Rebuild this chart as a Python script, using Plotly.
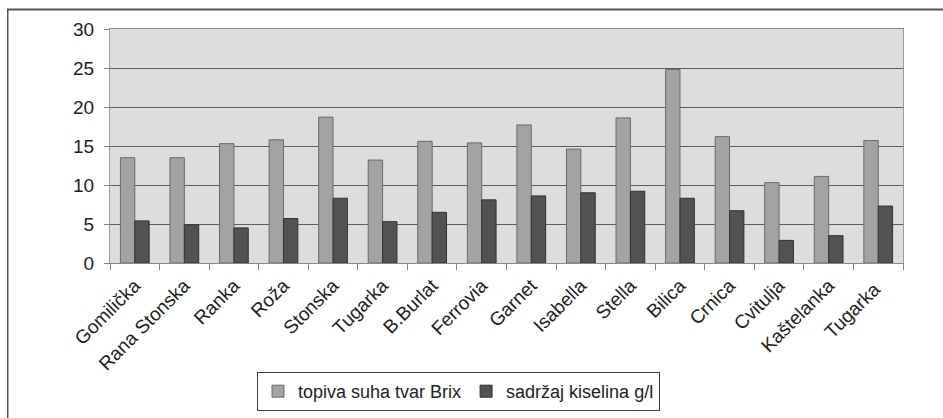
import plotly.graph_objects as go

categories = ["Gomilička", "Rana Stonska", "Ranka", "Roža", "Stonska", "Tugarka",
              "B.Burlat", "Ferrovia", "Garnet", "Isabella", "Stella", "Bilica",
              "Crnica", "Cvitulja", "Kaštelanka", "Tugarka "]
brix = [13.5, 13.5, 15.3, 15.8, 18.7, 13.2, 15.6, 15.4, 17.7, 14.6, 18.6, 24.8,
        16.2, 10.3, 11.1, 15.7]
acid = [5.4, 4.9, 4.5, 5.7, 8.3, 5.3, 6.5, 8.1, 8.6, 9.0, 9.2, 8.3,
        6.7, 2.9, 3.5, 7.3]
series_names = ["topiva suha tvar Brix", "sadržaj kiselina g/l"]
y_ticks = [0, 5, 10, 15, 20, 25, 30]

FONT = "Liberation Sans, Arial, sans-serif"

fig = go.Figure()
fig.add_trace(go.Bar(x=categories, y=brix, name=series_names[0],
                     marker=dict(color="#a3a3a3", line=dict(color="#6a6a6a", width=1))))
fig.add_trace(go.Bar(x=categories, y=acid, name=series_names[1],
                     marker=dict(color="#525252", line=dict(color="#333333", width=1))))

W, H = 943, 418
L, R, T, B = 110, 40, 29, 155
pw, ph = W - L - R, H - T - B

def px_x(x):
    return (x - L) / pw

def px_y(y):
    return (H - B - y) / ph

fig.update_layout(
    width=W, height=H,
    margin=dict(l=L, r=R, t=T, b=B, autoexpand=False),
    paper_bgcolor="white",
    plot_bgcolor="#dddddd",
    barmode="group",
    bargap=0.42,
    bargroupgap=0,
    font=dict(family=FONT, size=19, color="#222222"),
    showlegend=True,
    legend=dict(
        orientation="h",
        x=px_x(257), xanchor="left",
        y=px_y(372), yanchor="top",
        bordercolor="#404040", borderwidth=1,
        bgcolor="white",
        font=dict(family=FONT, size=18, color="#222222"),
        tracegroupgap=0,
    ),
    xaxis=dict(
        type="category",
        tickangle=-45,
        tickson="boundaries",
        ticks="outside", ticklen=6, tickcolor="#808080",
        showline=True, linecolor="#8a8a8a", linewidth=1,
        mirror=True,
        showgrid=False,
        automargin=False,
        ticklabelstandoff=3,
        tickfont=dict(family=FONT, size=19, color="#222222"),
        fixedrange=True,
    ),
    yaxis=dict(
        range=[0, 30],
        tickvals=y_ticks,
        ticks="outside", ticklen=5, tickcolor="#808080",
        showline=True, linecolor="#9a9a9a", linewidth=1,
        mirror=True,
        showgrid=True, gridcolor="#5e5e5e", gridwidth=1,
        zeroline=False,
        automargin=False,
        ticklabelstandoff=6,
        tickfont=dict(family=FONT, size=19, color="#222222"),
        fixedrange=True,
    ),
    shapes=[
        dict(type="line", xref="paper", yref="paper",
             x0=px_x(7), x1=px_x(950), y0=px_y(9.5), y1=px_y(9.5),
             line=dict(color="#555555", width=2)),
        dict(type="line", xref="paper", yref="paper",
             x0=px_x(7.75), x1=px_x(7.75), y0=px_y(9), y1=px_y(425),
             line=dict(color="#555555", width=1.5)),
    ],
)

fig.write_html(
    "out.html",
    config={"displayModeBar": False},
    post_script="document.body.style.margin='0';document.body.style.overflow='hidden';",
)
